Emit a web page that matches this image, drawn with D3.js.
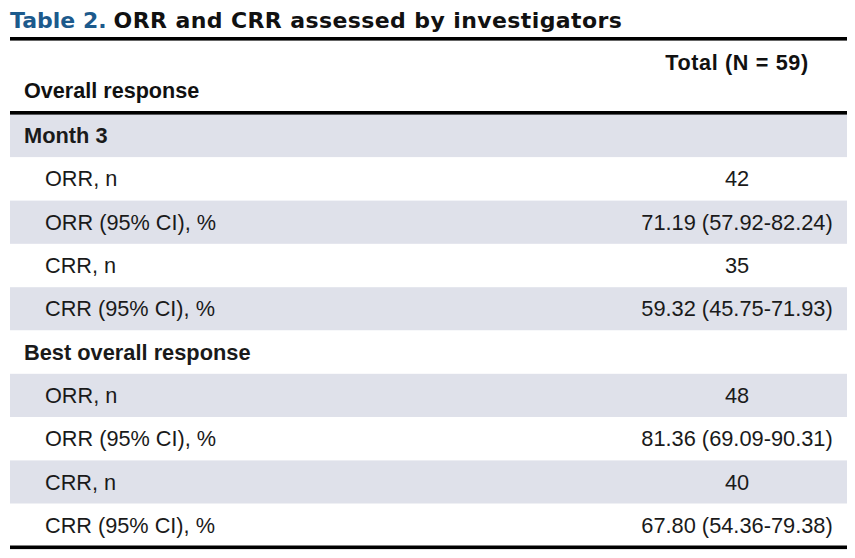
<!DOCTYPE html>
<html>
<head>
<meta charset="utf-8">
<script src="https://cdn.jsdelivr.net/npm/d3@7"></script>
<style>
  body { margin: 0; background: #fff; }
  svg { display: block; font-family: "Liberation Sans", Arial, Helvetica, sans-serif; }
</style>
</head>
<body>
<svg id="chart" width="855" height="558"></svg>
<script>
// TABLE DATA
const titleLabel = 'Table 2.';
const titleText = 'ORR and CRR assessed by investigators';
const rowHeader = 'Overall response';
const colHeader = 'Total (N = 59)';

const rowLabels = ['Month 3', 'ORR, n', 'ORR (95% CI), %', 'CRR, n', 'CRR (95% CI), %',
                   'Best overall response', 'ORR, n', 'ORR (95% CI), %', 'CRR, n', 'CRR (95% CI), %'];
const rowValues = ['', '42', '71.19 (57.92-82.24)', '35', '59.32 (45.75-71.93)',
                   '', '48', '81.36 (69.09-90.31)', '40', '67.80 (54.36-79.38)'];
const rowIsSection = [true, false, false, false, false, true, false, false, false, false];

const svg = d3.select('#chart');
const left = 10, right = 847;

// SCALES
const y = d3.scaleBand()
    .domain(d3.range(rowLabels.length))
    .range([114, 547]);
const valueX = 737;

// TITLE
const title = svg.append('text')
    .attr('x', left)
    .attr('y', 27.5)
    .style('font-family', '"DejaVu Sans", sans-serif')
    .style('font-size', '22px')
    .style('font-weight', 'bold');
title.append('tspan').attr('fill', '#1c5a8c').text(titleLabel);
title.append('tspan').attr('fill', '#111').attr('dx', 7).style('letter-spacing', '0.4px').text(titleText);

// ROW BANDS
svg.selectAll('rect.band')
    .data(rowLabels)
    .enter().append('rect')
    .attr('class', 'band')
    .attr('x', left)
    .attr('width', right - left)
    .attr('y', (d, i) => y(i))
    .attr('height', y.bandwidth())
    .attr('fill', (d, i) => i % 2 === 0 ? '#dfe1ea' : '#fff');

// RULES
const rules = [[37, 3.6], [111, 3.6], [545.5, 3.6]];
svg.selectAll('rect.rule')
    .data(rules)
    .enter().append('rect')
    .attr('class', 'rule')
    .attr('x', left)
    .attr('width', right - left)
    .attr('y', d => d[0])
    .attr('height', d => d[1])
    .attr('fill', '#000');

// HEADERS
svg.append('text')
    .attr('x', 24)
    .attr('y', 98)
    .style('font-size', '21.6px')
    .style('font-weight', 'bold')
    .attr('fill', '#111')
    .text(rowHeader);

svg.append('text')
    .attr('x', valueX)
    .attr('y', 70)
    .attr('text-anchor', 'middle')
    .style('font-size', '21.6px')
    .style('font-weight', 'bold')
    .style('letter-spacing', '0.65px')
    .attr('fill', '#111')
    .text(colHeader);

// ROW LABELS
svg.selectAll('text.label')
    .data(rowLabels)
    .enter().append('text')
    .attr('class', 'label')
    .attr('x', (d, i) => rowIsSection[i] ? 24 : 45)
    .attr('y', (d, i) => y(i) + y.bandwidth() / 2 + 7.5)
    .style('font-size', (d, i) => rowIsSection[i] ? '21.8px' : '21.7px')
    .style('font-weight', (d, i) => rowIsSection[i] ? 'bold' : 'normal')
    .attr('fill', '#1a1a1a')
    .text(d => d);

// VALUES
svg.selectAll('text.value')
    .data(rowValues)
    .enter().append('text')
    .attr('class', 'value')
    .attr('x', valueX)
    .attr('y', (d, i) => y(i) + y.bandwidth() / 2 + 7.5)
    .attr('text-anchor', 'middle')
    .style('font-size', '21.8px')
    .attr('fill', '#1a1a1a')
    .text(d => d);
</script>
</body>
</html>
